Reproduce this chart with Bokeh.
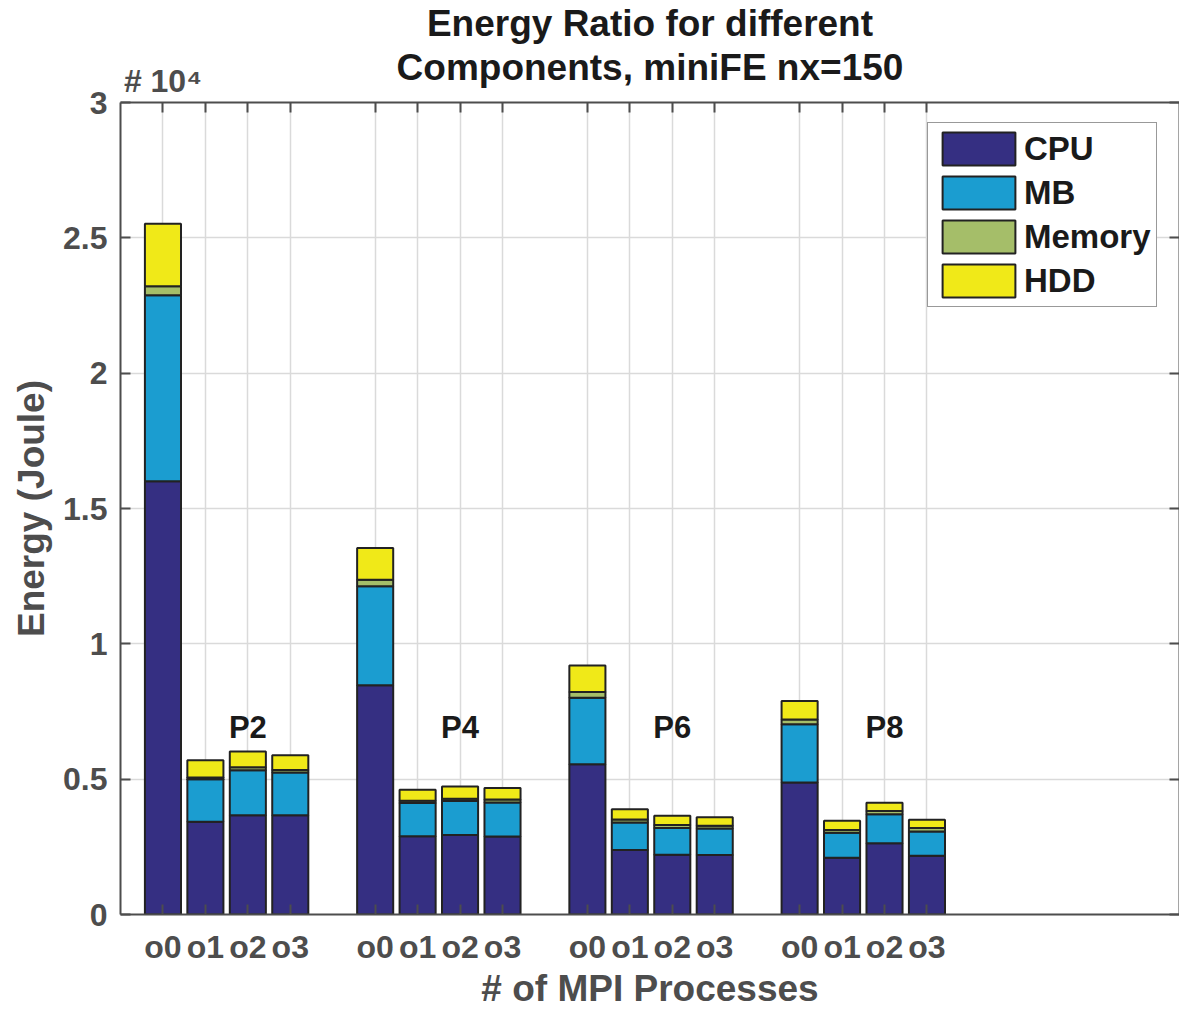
from bokeh.plotting import figure
from bokeh.models import (Range1d, FixedTicker, LinearAxis, Label, Legend,
                          LegendItem, ColumnDataSource)
from bokeh.embed import file_html
from bokeh.resources import INLINE

# ---------------- data (Joule) ----------------
groups = ["P2", "P4", "P6", "P8"]
configs = ["o0", "o1", "o2", "o3"]
components = ["CPU", "MB", "Memory", "HDD"]

cpu = [16010, 3430, 3670, 3670,
       8470, 2890, 2940, 2880,
       5550, 2380, 2210, 2200,
       4880, 2100, 2630, 2170]
mb = [6870, 1570, 1660, 1580,
      3660, 1230, 1250, 1260,
      2460, 1020, 990, 980,
      2150, 920, 1070, 900]
memory = [330, 60, 110, 90,
          240, 80, 90, 110,
          210, 110, 110, 100,
          170, 100, 120, 130]
hdd = [2310, 640, 580, 540,
       1170, 410, 450, 420,
       980, 380, 340, 310,
       690, 340, 310, 300]

title_lines = ["Energy Ratio for different", "Components, miniFE nx=150"]
exponent_label = "# 10\u2074"
colors = ["#352F82", "#1B9DD0", "#A5BE69", "#F0E918"]
SCALE = 1e4

# ---------------- layout ----------------
W, H = 1179, 1012
FL, FR, FT, FB = 120, 1179, 100, 914   # frame edges on the page
X0, X1 = 0.0, 24.95
Y0, Y1 = 0.0, 3.0

xpos = [gi * 5 + ci + 1 for gi in range(len(groups)) for ci in range(len(configs))]
tick_labels = {x: configs[i % len(configs)] for i, x in enumerate(xpos)}
top_labels = {x: "" for x in xpos}
top_labels[xpos[0]] = exponent_label

src = ColumnDataSource(dict(
    x=xpos,
    cpu=[v / SCALE for v in cpu],
    mb=[v / SCALE for v in mb],
    mem=[v / SCALE for v in memory],
    hdd=[v / SCALE for v in hdd],
))

p = figure(width=W, height=H, output_backend="svg", toolbar_location=None,
           x_range=Range1d(X0, X1), y_range=Range1d(Y0, Y1),
           x_axis_location=None, y_axis_location=None,
           min_border_left=FL, min_border_right=W - FR,
           min_border_top=FT, min_border_bottom=H - FB)
p.outline_line_color = None
p.background_fill_color = "white"
p.border_fill_color = "white"

AX = "#4d4d4d"
FONT = "Liberation Sans"

xt = FixedTicker(ticks=xpos)
yt = FixedTicker(ticks=[0, 0.5, 1, 1.5, 2, 2.5, 3])
ylabels = {0: "0", 0.5: "0.5", 1: "1", 1.5: "1.5", 2: "2", 2.5: "2.5", 3: "3"}

bottom = LinearAxis(ticker=xt, major_label_overrides=tick_labels,
                    axis_label="# of MPI Processes")
left = LinearAxis(ticker=yt, major_label_overrides=ylabels,
                  axis_label="Energy (Joule)")
top = LinearAxis(ticker=xt, major_label_overrides=top_labels,
                 axis_label="\n".join(title_lines))
right = LinearAxis(ticker=yt, major_label_text_alpha=0, major_label_text_font_size="1px")

for ax in (bottom, left, top, right):
    ax.axis_line_color = AX
    ax.axis_line_width = 2
    ax.major_tick_line_color = AX
    ax.major_tick_line_width = 2
    ax.major_tick_in = 10
    ax.major_tick_out = 0
    ax.minor_tick_line_color = None
    ax.major_label_text_color = AX
    ax.major_label_text_font = FONT
    ax.major_label_text_font_style = "bold"
    ax.axis_label_text_color = AX
    ax.axis_label_text_font = FONT
    ax.axis_label_text_font_style = "bold"

bottom.major_label_text_font_size = "32px"
bottom.major_label_standoff = 14
bottom.axis_label_text_font_size = "37px"
bottom.axis_label_standoff = 0
left.major_label_text_font_size = "32px"
left.major_label_standoff = 13
left.axis_label_text_font_size = "37px"
left.axis_label_standoff = 8

# top axis carries the exponent marker (as a tick label) and the 2-line title
top.major_label_text_font_size = "32px"
top.major_label_standoff = 4
top.axis_label_text_font_size = "37px"
top.axis_label_text_color = "#1a1a1a"
top.axis_label_text_line_height = 1.06
top.axis_label_standoff = -28

p.add_layout(bottom, "below")
p.add_layout(left, "left")
p.add_layout(top, "above")
p.add_layout(right, "right")

p.xgrid.ticker = xt
p.ygrid.ticker = yt
p.xgrid.grid_line_color = "#dadada"
p.ygrid.grid_line_color = "#dadada"
p.xgrid.grid_line_width = 1.5
p.ygrid.grid_line_width = 1.5

renderers = p.vbar_stack(["cpu", "mb", "mem", "hdd"], x="x", width=0.85,
                         color=colors, line_color="#222222", line_width=2,
                         source=src)

legend = Legend(items=[LegendItem(label=c, renderers=[r]) for c, r in zip(components, renderers)],
                location=(807, 607))
legend.glyph_width = 91
legend.glyph_height = 41
legend.label_height = 41
legend.spacing = 3
legend.padding = 5
legend.margin = 0
legend.label_standoff = 0
legend.label_text_font = FONT
legend.label_text_font_size = "33px"
legend.label_text_font_style = "bold"
legend.label_text_color = "#1a1a1a"
legend.border_line_color = "#333333"
legend.border_line_width = 1.5
legend.background_fill_color = "white"
legend.background_fill_alpha = 1
p.add_layout(legend, "center")

# group labels above the o2 bar of each group
for gi, g in enumerate(groups):
    p.add_layout(Label(x=gi * 5 + 3, y=0.69, text=g, text_align="center",
                       text_baseline="alphabetic", text_font=FONT,
                       text_font_size="31px", text_font_style="bold",
                       text_color="#1a1a1a"))

open("out.html", "w").write(file_html(p, INLINE))
